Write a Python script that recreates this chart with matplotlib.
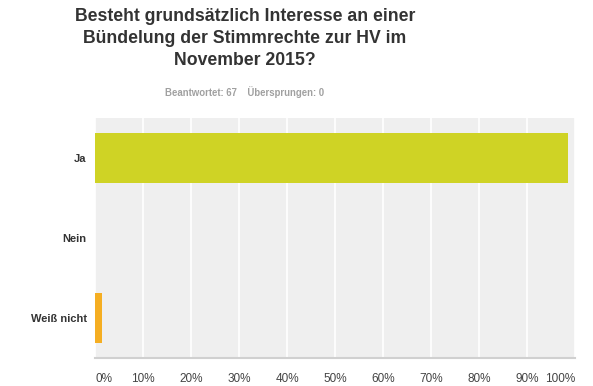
import numpy as np
import matplotlib.pyplot as plt

plt.rcParams['font.family'] = ['Liberation Sans', 'DejaVu Sans']

categories = ['Ja', 'Nein', 'Weiß nicht']
percent    = [98.51, 0.0, 1.49]
colors     = ['#cfd325', '#cfd325', '#f5ae22']
ticks      = np.arange(0, 101, 10)
tick_lbls  = ['%d%%' % t for t in ticks]

title    = 'Besteht grundsätzlich Interesse an einer\nBündelung der Stimmrechte zur HV im\nNovember 2015?'
subtitle = 'Beantwortet: 67    Übersprungen: 0'

W, H = 593, 386
fig = plt.figure(figsize=(W/100, H/100), dpi=100)
ax = fig.add_axes([95/W, 1-358/H, 480/W, 240/H])
ax.set_facecolor('#efefef')

y = np.arange(len(categories))
ax.barh(y, percent, height=0.625, color=colors, zorder=3)
ax.set_ylim(len(categories)-0.5, -0.5)
ax.set_xlim(0, 100)
ax.set_xticks(ticks)
ax.set_xticklabels(tick_lbls, fontsize=8.5, color='#444444')
lbls = ax.get_xticklabels()
lbls[0].set_ha('left')
lbls[-1].set_ha('right')
ax.set_yticks(y)
ax.set_yticklabels(categories, fontsize=8, fontweight='bold', color='#333333')
ax.tick_params(length=0, pad=6)
ax.tick_params(axis='x', pad=11)
ax.xaxis.grid(True, color='white', linewidth=1.2, zorder=1)
ax.set_axisbelow(True)
for s in ['top', 'right', 'left']:
    ax.spines[s].set_visible(False)
ax.spines['bottom'].set_color('#d0d0d0')
ax.spines['bottom'].set_linewidth(1.5)

fig.text(245/W, 1-38.5/H, title, ha='center', va='center', fontsize=12.7,
         fontweight='bold', color='#333333', linespacing=1.42)
fig.text(245/W, 1-92/H, subtitle, ha='center', va='center', fontsize=6.9,
         fontweight='bold', color='#a0a0a0')

fig.savefig('out.png', dpi=100)
